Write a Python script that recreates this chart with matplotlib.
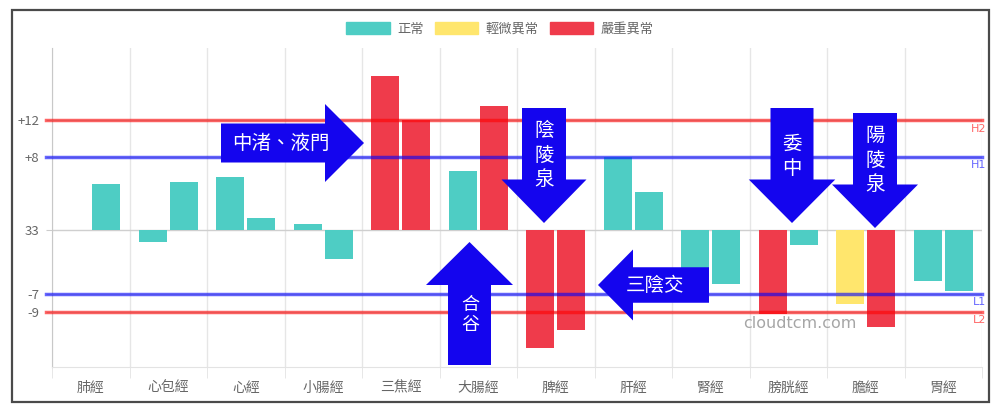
import matplotlib
matplotlib.use('Agg')
import matplotlib.pyplot as plt
import numpy as np
from matplotlib.patches import Patch, Polygon, Rectangle

plt.rcParams['font.family'] = ['Noto Sans CJK TC', 'DejaVu Sans']

# data (deviation from baseline)
meridians = ['肺經', '心包經', '心經', '小腸經', '三焦經', '大腸經',
             '脾經', '肝經', '腎經', '膀胱經', '膽經', '胃經']
left_vals = [0, -1.3, 5.8, 0.6, 16.8, 6.4, -12.9, 8.0, -5.8, -9.2, -8.1, -5.6]
right_vals = [5.0, 5.2, 1.35, -3.2, 12.0, 13.6, -10.9, 4.2, -5.9, -1.6, -10.6, -6.7]
left_level = ['正常', '正常', '正常', '正常', '嚴重異常', '正常',
              '嚴重異常', '正常', '正常', '嚴重異常', '輕微異常', '正常']
right_level = ['正常', '正常', '正常', '正常', '嚴重異常', '嚴重異常',
               '嚴重異常', '正常', '正常', '正常', '嚴重異常', '正常']
levels = ['正常', '輕微異常', '嚴重異常']
level_colors = {'正常': '#4ecdc4', '輕微異常': '#ffe66d', '嚴重異常': '#ef3b4b'}

limit_vals = [12, 8, -7, -9]
limit_names = ['H2', 'H1', 'L1', 'L2']
limit_colors = ['red', 'blue', 'blue', 'red']

ytick_vals = [12, 8, 0, -7, -9]
ytick_labels = ['+12', '+8', '33', '-7', '-9']

W, H = 1000, 418
fig = plt.figure(figsize=(W / 100, H / 100), dpi=100)
ax = fig.add_axes([52 / W, 51 / H, 930 / W, 319 / H])

x = np.arange(len(meridians))
ax.bar(x - 0.2, left_vals, width=0.355, color=[level_colors[l] for l in left_level], zorder=2)
ax.bar(x + 0.2, right_vals, width=0.355, color=[level_colors[l] for l in right_level], zorder=2)

ax.set_xlim(-0.5, len(meridians) - 0.5)
ax.set_ylim(-15, 19.9)

# category labels in the middle, grid lines on the boundaries
ax.set_xticks(x, meridians)
ax.set_xticks(np.arange(-0.5, len(meridians)), minor=True)
ax.tick_params(axis='x', which='major', length=0, pad=10, labelsize=10, labelcolor='#666666')
ax.tick_params(axis='x', which='minor', length=8, color='#e3e3e3')
ax.grid(which='minor', axis='x', color='#e6e6e6', lw=1, zorder=0)

ax.set_yticks(ytick_vals, ytick_labels)
ax.tick_params(axis='y', length=4, color='#cccccc', pad=5, labelsize=9.5, labelcolor='#666666')
ax.grid(axis='y', color='#cfcfcf', lw=1, zorder=1)

for s in ['top', 'right']:
    ax.spines[s].set_visible(False)
ax.spines['left'].set_color('#c8c8c8')
ax.spines['bottom'].set_color('#e3e3e3')

# limit lines
for v, name, c in zip(limit_vals, limit_names, limit_colors):
    ax.axhline(v, xmin=-0.006, color=c, alpha=0.6, lw=2.5, clip_on=False, zorder=3)
    ax.annotate(name, xy=(1, v), xycoords=ax.get_yaxis_transform(),
                xytext=(3, -6), textcoords='offset points', ha='right', va='center',
                fontsize=8, color=c, alpha=0.6, family='DejaVu Sans')

# legend
handles = [Patch(facecolor=level_colors[l], edgecolor=level_colors[l]) for l in levels]
fig.legend(handles, levels, loc='center', bbox_to_anchor=(0.5, 1 - 29 / H), ncol=3,
           frameon=False, fontsize=9.5, labelcolor='#666666', handlelength=3.3,
           handleheight=1.0, handletextpad=0.6, columnspacing=0.8)


# block arrows, pixel positions
def block_arrow(tip_x, tip_y, length, direction, shaft_w, head_w, head_len):
    # outline for an arrow pointing right, then rotated
    pts = np.array([[-length, -shaft_w / 2], [-head_len, -shaft_w / 2], [-head_len, -head_w / 2],
                    [0, 0], [-head_len, head_w / 2], [-head_len, shaft_w / 2], [-length, shaft_w / 2]])
    if direction == 'left':
        pts[:, 0] = -pts[:, 0]
    elif direction == 'down':
        pts = pts[:, ::-1].copy()
    elif direction == 'up':
        pts = pts[:, ::-1].copy()
        pts[:, 1] = -pts[:, 1]
    pts = pts + [tip_x, tip_y]
    fig_pts = [(px / W, 1 - py / H) for px, py in pts]
    fig.add_artist(Polygon(fig_pts, closed=True, transform=fig.transFigure,
                           facecolor='#1405ee', edgecolor='none', zorder=5))


def arrow_text(px, py, s, size=14, ls=1.2):
    fig.text(px / W, 1 - py / H, s, color='white', fontsize=size, ha='center', va='center',
             linespacing=ls, zorder=6)


block_arrow(364, 143, 143, 'right', 39, 78, 39)
arrow_text(281, 143, '中渚、液門')

block_arrow(469.5, 242, 123, 'up', 43, 87, 43)
arrow_text(470, 315, '合\n谷', size=13, ls=1.15)

block_arrow(544, 223, 115, 'down', 44, 85, 43.5)
arrow_text(544, 155, '陰\n陵\n泉')

block_arrow(598, 285, 111, 'left', 35.5, 71, 35)
arrow_text(655, 285, '三陰交')

block_arrow(792, 223, 115, 'down', 43, 86.5, 43.5)
arrow_text(792, 156, '委\n中')

block_arrow(875, 228, 115, 'down', 44, 86, 43.5)
arrow_text(875, 160, '陽\n陵\n泉')

fig.text(800 / W, 1 - 323 / H, 'cloudtcm.com', color='#a6a6a6', fontsize=11.5,
         ha='center', va='center', family='DejaVu Sans')

# outer frame
fig.add_artist(Rectangle((12 / W, 1 - 402 / H), 977 / W, 392 / H, transform=fig.transFigure,
                         fill=False, edgecolor='#4a4a4a', lw=1.6))

fig.savefig('out.png', dpi=100)
